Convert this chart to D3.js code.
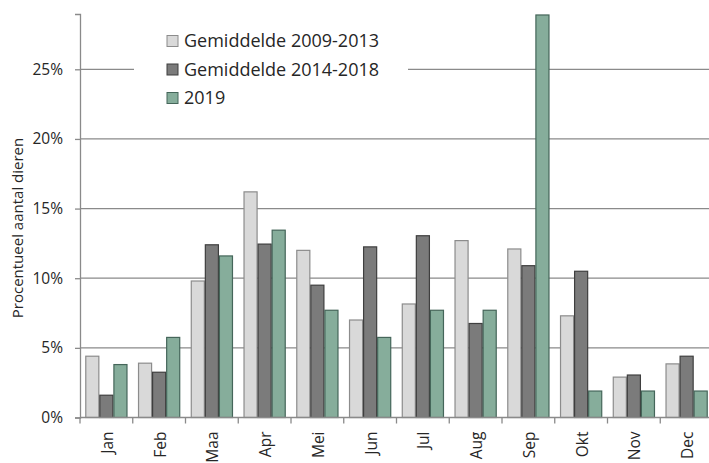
<!DOCTYPE html>
<html>
<head>
<meta charset="utf-8">
<script src="https://cdn.jsdelivr.net/npm/d3@7"></script>
<style>
  html, body { margin: 0; padding: 0; background: #fff; }
  svg { display: block; font-family: "Open Sans", sans-serif; }
</style>
</head>
<body>
<svg id="chart" width="709" height="463"></svg>
<script>
// Maandelijkse verdeling (procent van het jaartotaal)
const months = ["Jan", "Feb", "Maa", "Apr", "Mei", "Jun", "Jul", "Aug", "Sep", "Okt", "Nov", "Dec"];
const seriesNames = ["Gemiddelde 2009-2013", "Gemiddelde 2014-2018", "2019"];
const avg2009_2013 = [4.4, 3.9, 9.8, 16.2, 12.0, 7.0, 8.15, 12.7, 12.1, 7.3, 2.9, 3.85];
const avg2014_2018 = [1.6, 3.25, 12.4, 12.45, 9.5, 12.25, 13.05, 6.75, 10.9, 10.5, 3.05, 4.4];
const year2019 = [3.8, 5.75, 11.6, 13.45, 7.7, 5.75, 7.7, 7.7, 28.9, 1.9, 1.9, 1.9];
const yTicks = [0, 5, 10, 15, 20, 25];

const fills = ["#d9d9d9", "#7b7b7b", "#86ad9b"];
const strokes = ["#8c8c8c", "#3f3f3f", "#45665a"];
const seriesValues = [avg2009_2013, avg2014_2018, year2019];

const svg = d3.select("#chart");
const plotLeft = 80, plotRight = 713, plotTop = 14, plotBottom = 417.5;

const x = d3.scaleBand().domain(months).range([plotLeft, plotRight]).paddingInner(0.2).paddingOuter(0.1);
const xs = d3.scaleBand().domain(d3.range(3)).range([0, x.bandwidth()]);
const y = d3.scaleLinear().domain([0, 28.97]).range([plotBottom, plotTop]);

const gridColor = "#8a8a8a";
const textColor = "#262626";

// Horizontale rasterlijnen
svg.append("g")
  .selectAll("line")
  .data(yTicks.filter(d => d > 0))
  .join("line")
  .attr("x1", plotLeft).attr("x2", 709)
  .attr("y1", d => y(d)).attr("y2", d => y(d))
  .attr("stroke", gridColor).attr("stroke-width", 1.3);

// Y-as met percentages
const yAxis = svg.append("g")
  .attr("transform", `translate(${plotLeft},0)`)
  .call(d3.axisLeft(y).tickValues(yTicks).tickFormat(d => d + "%").tickSize(5).tickPadding(12));
yAxis.select(".domain").attr("stroke", gridColor).attr("stroke-width", 1.3);
yAxis.selectAll(".tick line").attr("stroke", gridColor).attr("stroke-width", 1.3);
yAxis.selectAll(".tick text").attr("fill", textColor).style("font-size", "15.5px").style("font-family", "'Open Sans', sans-serif");

// Staven per maand
const groups = svg.append("g")
  .selectAll("g")
  .data(months)
  .join("g")
  .attr("transform", d => `translate(${x(d)},0)`);

groups.selectAll("rect")
  .data((m, i) => seriesValues.map((vals, s) => ({ s, v: vals[i] })))
  .join("rect")
  .attr("x", d => xs(d.s) + 0.5)
  .attr("width", xs.bandwidth() - 1)
  .attr("y", d => y(d.v))
  .attr("height", d => y(0) - y(d.v))
  .attr("fill", d => fills[d.s])
  .attr("stroke", d => strokes[d.s])
  .attr("stroke-width", 1.2);

// X-as
const xAxisG = svg.append("g").attr("transform", `translate(0,${plotBottom})`);
xAxisG.append("line")
  .attr("x1", plotLeft).attr("x2", 709)
  .attr("stroke", gridColor).attr("stroke-width", 1.3);
const step = x.step();
const boundaries = d3.range(months.length + 1).map(i => plotLeft + i * step);
xAxisG.selectAll("line.tick")
  .data(boundaries)
  .join("line")
  .attr("class", "tick")
  .attr("x1", d => d).attr("x2", d => d)
  .attr("y1", 0).attr("y2", 6)
  .attr("stroke", gridColor).attr("stroke-width", 1.3);
xAxisG.selectAll("text")
  .data(months)
  .join("text")
  .attr("transform", d => `translate(${x(d) + x.bandwidth() / 2 + 1},14) rotate(-90)`)
  .attr("text-anchor", "end")
  .attr("dy", "0.35em")
  .attr("fill", textColor)
  .style("font-size", "15.5px")
  .text(d => d);

// Titel y-as
svg.append("text")
  .attr("transform", `translate(23,228) rotate(-90)`)
  .attr("text-anchor", "middle")
  .attr("fill", textColor)
  .style("font-size", "15px")
  .text("Procentueel aantal dieren");

// Legenda
const legend = svg.append("g");
legend.append("rect")
  .attr("x", 134).attr("y", 28).attr("width", 274).attr("height", 84)
  .attr("fill", "#fff");
const li = legend.selectAll("g")
  .data(seriesNames)
  .join("g")
  .attr("transform", (d, i) => `translate(167,${41 + i * 28.5})`);
li.append("rect")
  .attr("x", 0).attr("y", -5.5).attr("width", 11).attr("height", 11)
  .attr("fill", (d, i) => fills[i])
  .attr("stroke", (d, i) => strokes[i]);
li.append("text")
  .attr("x", 17).attr("y", 0).attr("dy", "0.36em")
  .attr("fill", textColor)
  .style("font-size", "18px")
  .text(d => d);
</script>
</body>
</html>
